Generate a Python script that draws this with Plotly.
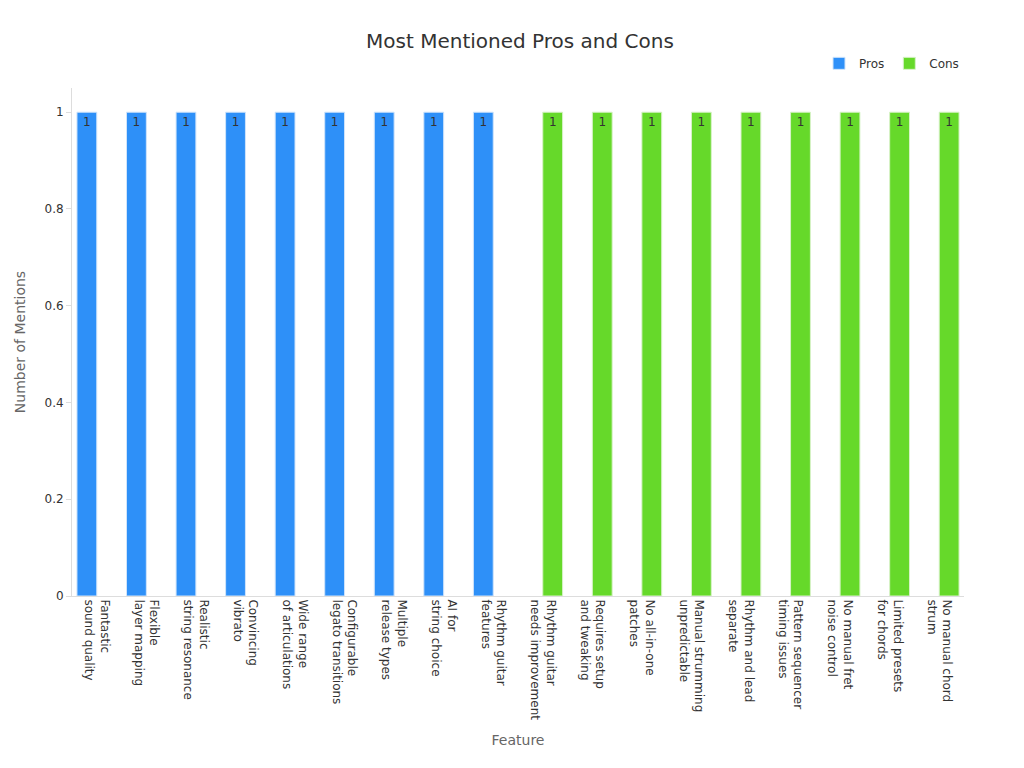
import plotly.graph_objects as go

features = [
    "Fantastic<br>sound quality", "Flexible<br>layer mapping", "Realistic<br>string resonance",
    "Convincing<br>vibrato", "Wide range<br>of articulations", "Configurable<br>legato transitions",
    "Multiple<br>release types", "AI for<br>string choice", "Rhythm guitar<br>features",
    "Rhythm guitar<br>needs improvement", "Requires setup<br>and tweaking", "No all-in-one<br>patches",
    "Manual strumming<br>unpredictable", "Rhythm and lead<br>separate", "Pattern sequencer<br>timing issues",
    "No manual fret<br>noise control", "Limited presets<br>for chords", "No manual chord<br>strum",
]
pros_y = [1] * 9 + [None] * 9
cons_y = [None] * 9 + [1] * 9

fig = go.Figure()
fig.add_trace(go.Bar(x=features, y=pros_y, name="Pros", marker_color="#2E90F8",
                     marker_line=dict(color="#d0e4fa", width=1),
                     text=pros_y, textposition="inside", insidetextanchor="end",
                     textfont=dict(color="#333", size=12)))
fig.add_trace(go.Bar(x=features, y=cons_y, name="Cons", marker_color="#66D92A",
                     marker_line=dict(color="#d8f2c8", width=1),
                     text=cons_y, textposition="inside", insidetextanchor="end",
                     textfont=dict(color="#333", size=12)))
fig.update_layout(
    barmode="group",
    width=1024, height=768,
    font=dict(family="DejaVu Sans", size=12, color="#333"),
    title=dict(text="Most Mentioned Pros and Cons", x=0.5, y=0.957, yanchor="middle",
               font=dict(size=20)),
    plot_bgcolor="white", paper_bgcolor="white",
    legend=dict(orientation="h", x=1, xanchor="right", y=1.02, yanchor="bottom"),
    margin=dict(l=58, r=68, t=80, b=180),
    bargap=0.2, bargroupgap=0,
)
fig.update_xaxes(categoryorder="array", categoryarray=features, tickangle=90,
                 title=dict(text="Feature", font=dict(color="#666", size=14)),
                 showline=True, linecolor="#ddd", showgrid=False, ticks="")
fig.update_yaxes(title=dict(text="Number of Mentions", font=dict(color="#666", size=14)),
                 showline=True, linecolor="#ddd", showgrid=False, ticks="outside",
                 tickcolor="#ddd", range=[0, 1.05], dtick=0.2, zeroline=False)
fig.write_html("out.html")
